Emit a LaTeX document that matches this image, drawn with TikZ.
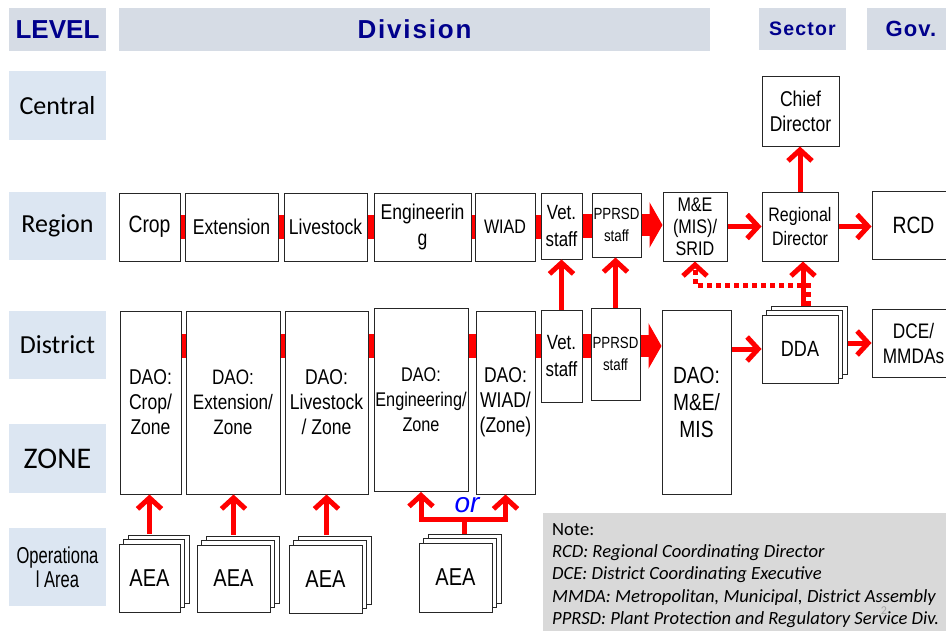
\documentclass[tikz,border=0pt]{standalone}
\usepackage{fontspec}
\setmainfont{Liberation Sans}
\newfontfamily\calibri{Carlito}
\newfontfamily\narrowsf[FakeStretch=0.72]{Liberation Sans}
\newfontfamily\boxsf[FakeStretch=0.82]{Liberation Sans}
\usetikzlibrary{arrows.meta,shadows}
\definecolor{hdrfill}{HTML}{D6DCE5}
\definecolor{lvlfill}{HTML}{DCE6F2}
\definecolor{hdrtext}{HTML}{00008C}
\definecolor{notefill}{HTML}{D9D9D9}
\tikzset{
  hdr/.style={fill=hdrfill, text=hdrtext, inner sep=0pt},
  lvl/.style={fill=lvlfill, minimum width=97pt, inner sep=0pt, align=center,
    font=\calibri\fontsize{26}{30}\selectfont},
  box/.style={draw=black!85, line width=1pt, fill=white, align=center, inner sep=1pt,
    font=\boxsf\fontsize{21.4}{25}\selectfont},
  stack/.style={box, double copy shadow={shadow xshift=4.5pt, shadow yshift=4.5pt}},
  arr/.style={red, line width=5pt, -{Straight Barb[length=11pt,width=24pt]}},
  dotarr/.style={arr, dash pattern=on 5pt off 4pt},
  bar/.style={red, line width=24pt},
  blk/.style={red, line width=22pt, -{Triangle[length=13pt,width=45pt]}},
}
\begin{document}
\begin{tikzpicture}[x=1pt,y=-1pt]
    \useasboundingbox (0,0) rectangle (946,630);
    % headers
    \node[hdr, minimum width=97pt, minimum height=43pt,
      font=\bfseries\fontsize{26}{30}\selectfont] (H0) at (57.5,29.5) {LEVEL};
    \node[hdr, minimum width=591pt, minimum height=43pt,
      font=\bfseries\addfontfeature{LetterSpace=7}\fontsize{26}{30}\selectfont] (H1) at (414.5,29.5) {Division};
    \node[hdr, minimum width=87pt, minimum height=42pt,
      font=\bfseries\addfontfeature{LetterSpace=6}\fontsize{19.5}{24}\selectfont] (H2) at (802.5,29) {Sector};
    \node[hdr, minimum width=88pt, minimum height=42pt,
      font=\bfseries\addfontfeature{LetterSpace=5}\fontsize{22}{26}\selectfont] (H3) at (911,29) {Gov.};
    % levels
    \node[lvl, minimum height=69pt] (L0) at (57.5,105.5) {Central};
    \node[lvl, minimum height=68pt] (L1) at (57.5,226) {Region};
    \node[lvl, minimum height=68pt] (L2) at (57.5,345) {District};
    \node[lvl, minimum height=69pt, font=\calibri\fontsize{30}{34}\selectfont] (L3) at (57.5,458.5) {ZONE};
    \node[lvl, minimum height=78pt, font=\narrowsf\fontsize{23}{24}\selectfont] (L4) at (57.5,567) {Operationa\\l Area};
    % central
    \node[box, minimum width=77pt, minimum height=70pt] (A0_8) at (800.5,111) {Chief\\Director};
    % region
    \node[box, minimum width=61pt, minimum height=68pt, font=\boxsf\fontsize{23.6}{25}\selectfont] (A1_0) at (149.5,227) {Crop};
    \node[box, minimum width=93pt, minimum height=68pt] (A1_1) at (231.5,227) {Extension};
    \node[box, minimum width=83pt, minimum height=68pt] (A1_2) at (325.5,227) {Livestock};
    \node[box, minimum width=97pt, minimum height=68pt, font=\boxsf\fontsize{21.4}{26}\selectfont] (A1_3) at (422.5,227) {Engineerin\\g};
    \node[box, minimum width=60pt, minimum height=68pt, font=\boxsf\fontsize{19.6}{25}\selectfont] (A1_4) at (505,227) {WIAD};
    \node[box, minimum width=41pt, minimum height=66pt, font=\boxsf\fontsize{20.6}{27}\selectfont] (A1_5) at (561.5,226) {Vet.\\staff};
    \node[box, minimum width=49pt, minimum height=64pt, font=\boxsf\fontsize{16.2}{22}\selectfont] (A1_6) at (616.5,225) {PPRSD\\staff};
    \node[box, minimum width=64pt, minimum height=69pt, font=\boxsf\fontsize{19.7}{22}\selectfont] (A1_7) at (695,226.5) {M\&E\\(MIS)/\\SRID};
    \node[box, minimum width=76pt, minimum height=69pt, font=\boxsf\fontsize{19.5}{24}\selectfont] (A1_8) at (800,226.5) {Regional\\Director};
    \node[box, minimum width=83pt, minimum height=68pt, font=\boxsf\fontsize{23.6}{25}\selectfont] (A1_9) at (913.5,225) {RCD};
    % district
    \node[box, minimum width=61pt, minimum height=183pt] (A2_0) at (150.5,402.5) {DAO:\\Crop/\\Zone};
    \node[box, minimum width=94pt, minimum height=183pt, font=\boxsf\fontsize{20.9}{25}\selectfont] (A2_1) at (233,402.5) {DAO:\\Extension/\\Zone};
    \node[box, minimum width=83pt, minimum height=183pt] (A2_2) at (326.5,402.5) {DAO:\\Livestock\\/ Zone};
    \node[box, minimum width=94pt, minimum height=183pt, font=\boxsf\fontsize{19.8}{25}\selectfont] (A2_3) at (421,400) {DAO:\\Engineering/\\Zone};
    \node[box, minimum width=59pt, minimum height=183pt] (A2_4) at (505.5,402.5) {DAO:\\WIAD/\\(Zone)};
    \node[box, minimum width=41pt, minimum height=92pt, font=\boxsf\fontsize{20.6}{27}\selectfont] (A2_5) at (561.5,356) {Vet.\\staff};
    \node[box, minimum width=49pt, minimum height=92pt, font=\boxsf\fontsize{16.2}{22}\selectfont] (A2_6) at (615.5,354) {PPRSD\\staff};
    \node[box, minimum width=69pt, minimum height=184pt, font=\boxsf\fontsize{23.4}{27}\selectfont] (A2_7) at (696.5,402) {DAO:\\M\&E/\\MIS};
    \node[stack, minimum width=76pt, minimum height=68pt, font=\boxsf\fontsize{22}{25}\selectfont] (A2_8) at (800,349) {DDA};
    \node[box, minimum width=83pt, minimum height=68pt, font=\boxsf\fontsize{21}{25}\selectfont] (A2_9) at (913.5,343) {DCE/\\MMDAs};
    % operational area
    \node[stack, minimum width=61pt, minimum height=68pt, font=\boxsf\fontsize{24.4}{25}\selectfont] (A3_0) at (149.5,578) {AEA};
    \node[stack, minimum width=73pt, minimum height=67pt, font=\boxsf\fontsize{24.4}{25}\selectfont] (A3_1) at (233.5,578.5) {AEA};
    \node[stack, minimum width=73pt, minimum height=68pt, font=\boxsf\fontsize{24.4}{25}\selectfont] (A3_2) at (325.5,579) {AEA};
    \node[stack, minimum width=73pt, minimum height=69pt, font=\boxsf\fontsize{24.4}{25}\selectfont] (A3_3) at (455.5,577.5) {AEA};
    \node[text=blue, font=\itshape\fontsize{28}{30}\selectfont] (or) at (467,505) {or};
    \coordinate (dbar) at (0,346);
    \coordinate (dline) at (0,285);
    % links in a row
    \path (A1_0.east) edge [bar] (A1_1.west);
    \path (A1_1.east) edge [bar] (A1_2.west);
    \path (A1_2.east) edge [bar] (A1_3.west);
    \path (A1_3.east) edge [bar] (A1_4.west);
    \path (A1_4.east) edge [bar] (A1_4.east -| A1_5.west);
    \path (A1_5.east) edge [bar] (A1_5.east -| A1_6.west);
    \path (A2_0.east |- dbar) edge [bar] (A2_1.west |- dbar);
    \path (A2_1.east |- dbar) edge [bar] (A2_2.west |- dbar);
    \path (A2_2.east |- dbar) edge [bar] (A2_3.west |- dbar);
    \path (A2_3.east |- dbar) edge [bar] (A2_4.west |- dbar);
    \path (A2_4.east |- dbar) edge [bar] (A2_5.west |- dbar);
    \path (A2_5.east |- dbar) edge [bar] (A2_6.west |- dbar);
    \path (A1_6.east) edge [blk] (A1_6.east -| A1_7.west);
    \path (A2_6.east |- dbar) edge [blk] (A2_7.west |- dbar);
    % reporting lines
    \path (A1_8.north) edge [arr] (A0_8.south -| A1_8.north);
    \path (A1_7.east) edge [arr] (A1_8.west);
    \path (A1_8.east) edge [arr] (A1_8.east -| A1_9.west);
    \path (A2_5.north) edge [arr] (A1_5.south);
    \path (A2_6.north) edge [arr] (A2_6.north |- A1_6.south);
    \path (A2_7.east |- A2_8) edge [arr] (A2_8.west);
    \path ([xshift=9pt]A2_8.east |- A2_9.west) edge [arr] (A2_9.west);
    \path ([xshift=3pt,yshift=9pt]A2_8.north) edge [arr] ([xshift=3pt]A2_8.north |- A1_8.south);
    \draw [dotarr] ([xshift=8pt,yshift=9pt]A2_8.north) -- ([xshift=8pt]A2_8.north |- dline) -| (A1_7.south);
    \path ([yshift=10pt]A3_0.north) edge [arr] (A3_0.north |- A2_0.south);
    \path ([yshift=10pt]A3_1.north) edge [arr] (A3_1.north |- A2_1.south);
    \path ([xshift=1pt,yshift=10pt]A3_2.north) edge [arr] ([xshift=1pt]A3_2.north |- A2_2.south);
    \draw [red, line width=5pt] ([xshift=9pt,yshift=9pt]A3_3.north) -- ++(0,-14) coordinate (fk);
    \draw [arr] (fk) -| (A2_3.south);
    \draw [arr] (fk) -| (A2_4.south);
    % note
    \node[fill=notefill, anchor=north west, minimum width=420pt, minimum height=130pt] (note) at (543,513) {};
    \node[anchor=north west, inner sep=0pt, align=left,
      font=\calibri\fontsize{18.6}{22.3}\selectfont] (notetext) at ([xshift=9pt,yshift=-10pt]note.north west)
      {Note:\\
       \textit{RCD: Regional Coordinating Director}\\
       \textit{DCE: District Coordinating Executive}\\
       \textit{MMDA: Metropolitan, Municipal, District Assembly}\\
       \textit{PPRSD: Plant Protection and Regulatory Service Div.}};
    \node[text=black!35, font=\calibri\fontsize{12}{12}\selectfont] (page) at (884,611) {2};
  \end{tikzpicture}
\end{document}
